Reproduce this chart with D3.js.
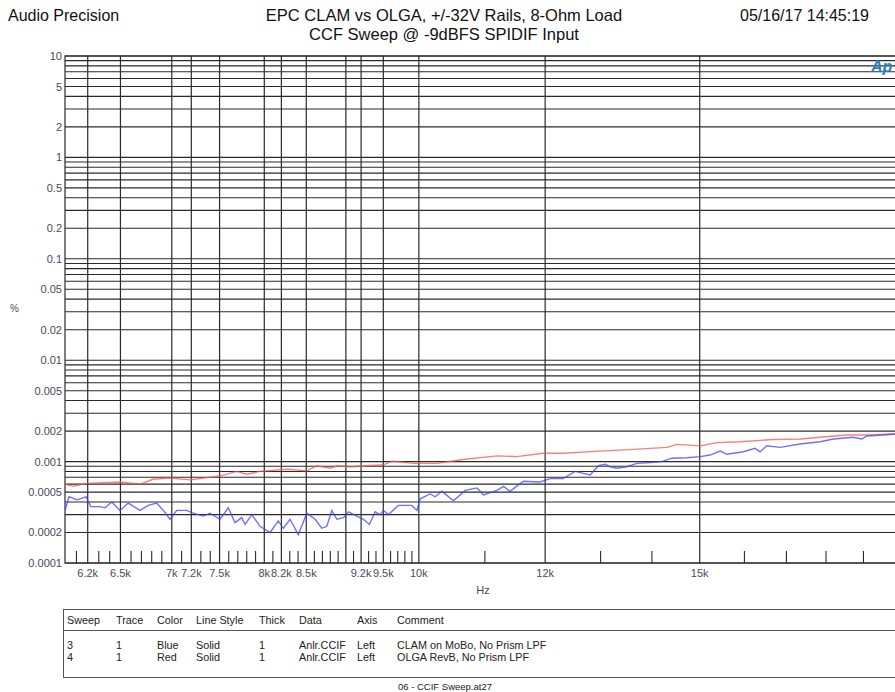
<!DOCTYPE html>
<meta charset="utf-8" />
<style>
  body { margin: 0; background: #fff; }
  text { font-family: "Liberation Sans", Arial, sans-serif; }
</style>
<svg width="895" height="692"></svg>
<script src="https://d3js.org/d3.v7.min.js"></script>
<script>
    // series: frequency (Hz) and value (%)
    var blueFreq = [6000, 6035, 6104, 6185, 6227, 6311, 6357, 6419, 6496, 6574, 6686, 6766, 6849, 6915, 6982,
        7050, 7152, 7221, 7326, 7397, 7505, 7595, 7669, 7744, 7781, 7857, 7951, 8067, 8164, 8223, 8303, 8403,
        8506, 8609, 8693, 8756, 8819, 8884, 8969, 9034, 9144, 9231, 9311, 9388, 9456, 9502, 9571, 9710, 9899,
        9971, 10019, 10165, 10239, 10338, 10513, 10692, 10875, 10979, 11193, 11301, 11406, 11628, 11912, 12086,
        12317, 12530, 12805, 12959, 13085, 13180, 13309, 13502, 13698, 13963, 14201, 14408, 14723, 15008, 15226,
        15448, 15598, 15976, 16247, 16366, 16525, 16845, 17338, 17846, 18193, 18726, 18955, 19092, 19555, 19888, 20000];
    var blueVal = [0.00033, 0.00045, 0.00042, 0.00045, 0.00036, 0.00036, 0.00035, 0.00040, 0.00033, 0.00039, 0.00033,
        0.00037, 0.00039, 0.00033, 0.00027, 0.00033, 0.00033, 0.00031, 0.00029, 0.00031, 0.00027, 0.00035, 0.00025,
        0.00028, 0.00024, 0.00030, 0.00023, 0.00020, 0.00026, 0.00022, 0.00027, 0.00019, 0.00031, 0.00027, 0.00022,
        0.00023, 0.00033, 0.00027, 0.00028, 0.00032, 0.00029, 0.00027, 0.00024, 0.00032, 0.00030, 0.00033, 0.00030,
        0.00037, 0.00037, 0.00033, 0.00043, 0.00048, 0.00045, 0.00051, 0.00041, 0.00052, 0.00055, 0.00047, 0.00052,
        0.00057, 0.00051, 0.00064, 0.00063, 0.00068, 0.00068, 0.00080, 0.00074, 0.00091, 0.00094, 0.00089, 0.00086,
        0.00089, 0.00096, 0.00098, 0.00100, 0.00108, 0.00109, 0.00112, 0.00116, 0.00127, 0.00118, 0.00125, 0.00135,
        0.00125, 0.00143, 0.00138, 0.00149, 0.00157, 0.00167, 0.00174, 0.00167, 0.00179, 0.00183, 0.00187, 0.00188];

    var redFreq = [6000, 6070, 6190, 6500, 6690, 6810, 6980, 7190, 7500, 7690, 7800, 7950, 8270, 8510, 8630, 8800,
        8890, 9056, 9500, 9620, 9920, 10270, 10660, 11200, 11520, 11960, 12320, 12990, 13630, 14310, 14520, 15010,
        15380, 15900, 16680, 17340, 17850, 18560, 19100, 19830, 20000];
    var redVal = [0.00060, 0.00057, 0.00061, 0.00063, 0.00060, 0.00067, 0.00069, 0.00066, 0.00072, 0.00080, 0.00075,
        0.00080, 0.00084, 0.00081, 0.00091, 0.00086, 0.00091, 0.00089, 0.00093, 0.00101, 0.00096, 0.00096, 0.00105,
        0.00114, 0.00112, 0.00121, 0.00121, 0.00127, 0.00132, 0.00138, 0.00148, 0.00143, 0.00154, 0.00157, 0.00165,
        0.00167, 0.00174, 0.00183, 0.00183, 0.00187, 0.00188];

    var gridFreqs = [6200, 6500, 7000, 7200, 7500, 8000, 8200, 8500, 9000, 9200, 9500, 10000, 12000, 15000];
    var labelFreqs = [6200, 6500, 7000, 7200, 7500, 8000, 8200, 8500, 9200, 9500, 10000, 12000, 15000];
    var minorFreqs = [6100, 6300, 6400, 6600, 6700, 6800, 6900, 7100, 7300, 7400, 7600, 7700, 7800, 7900, 8100,
        8300, 8400, 8600, 8700, 8800, 8900, 9100, 9300, 9400, 9600, 9700, 9800, 9900, 11000, 13000, 14000,
        16000, 17000, 18000, 19000];
    var yLabels = [10, 5, 2, 1, 0.5, 0.2, 0.1, 0.05, 0.02, 0.01, 0.005, 0.002, 0.001, 0.0005, 0.0002, 0.0001];

    var tableHead = ["Sweep", "Trace", "Color", "Line Style", "Thick", "Data", "Axis", "Comment"];
    var tableRows = [
        ["3", "1", "Blue", "Solid", "1", "Anlr.CCIF", "Left", "CLAM on MoBo, No Prism LPF"],
        ["4", "1", "Red", "Solid", "1", "Anlr.CCIF", "Left", "OLGA RevB, No Prism LPF"]
    ];
    var colX = [67, 116, 157, 196, 259, 299, 357, 397];

    var svg = d3.select("svg");
    var plotL = 65, plotR = 899, plotT = 56, plotB = 563;

    var x = d3.scaleLog().domain([6000, 20000]).range([plotL, plotR]);
    var y = d3.scaleLog().domain([0.0001, 10]).range([plotB, plotT]);

    var gridCol = "#2a2a2a";
    var labCol = "#4a4a58";

    // header texts
    svg.append("text").attr("x", 8).attr("y", 21).attr("font-size", 16).attr("fill", "#111").text("Audio Precision");
    svg.append("text").attr("x", 444).attr("y", 21).attr("font-size", 16.5).attr("text-anchor", "middle")
        .attr("fill", "#111").text("EPC CLAM vs OLGA, +/-32V Rails, 8-Ohm Load");
    svg.append("text").attr("x", 444).attr("y", 40).attr("font-size", 16.5).attr("text-anchor", "middle")
        .attr("fill", "#111").text("CCF Sweep @ -9dBFS SPIDIF Input");
    svg.append("text").attr("x", 740).attr("y", 21).attr("font-size", 16).attr("fill", "#111").text("05/16/17 14:45:19");

    // horizontal grid: 1..9 per decade
    var hLines = [];
    for (var e = -4; e <= 0; e++) {
        for (var k = 1; k <= 9; k++) hLines.push(k * Math.pow(10, e));
    }
    hLines.push(10);

    var g = svg.append("g");
    g.selectAll("line.h").data(hLines).enter().append("line")
        .attr("x1", plotL).attr("x2", plotR)
        .attr("y1", function(d) { return y(d); }).attr("y2", function(d) { return y(d); })
        .attr("stroke", gridCol).attr("stroke-width", 1.1);

    g.selectAll("line.v").data(gridFreqs).enter().append("line")
        .attr("x1", function(d) { return x(d); }).attr("x2", function(d) { return x(d); })
        .attr("y1", plotT).attr("y2", plotB)
        .attr("stroke", gridCol).attr("stroke-width", 1.2);

    g.selectAll("line.m").data(minorFreqs).enter().append("line")
        .attr("x1", function(d) { return x(d); }).attr("x2", function(d) { return x(d); })
        .attr("y1", plotB - 12).attr("y2", plotB)
        .attr("stroke", gridCol).attr("stroke-width", 1.1);

    // frame
    g.append("rect").attr("x", plotL).attr("y", plotT).attr("width", plotR - plotL).attr("height", plotB - plotT)
        .attr("fill", "none").attr("stroke", gridCol).attr("stroke-width", 1.2);

    // tick labels
    svg.append("g").selectAll("text").data(yLabels).enter().append("text")
        .attr("x", 62).attr("y", function(d) { return y(d) + 4; })
        .attr("text-anchor", "end").attr("font-size", 11).attr("fill", labCol)
        .text(function(d) { return String(d); });

    svg.append("g").selectAll("text").data(labelFreqs).enter().append("text")
        .attr("x", function(d) { return x(d); }).attr("y", plotB + 14)
        .attr("text-anchor", "middle").attr("font-size", 11).attr("fill", labCol)
        .text(function(d) { return (d / 1000) + "k"; });

    svg.append("text").attr("x", 10).attr("y", 312).attr("font-size", 10).attr("fill", labCol).text("%");
    svg.append("text").attr("x", 483).attr("y", 594).attr("font-size", 11).attr("text-anchor", "middle")
        .attr("fill", labCol).text("Hz");

    // Ap logo
    svg.append("text").attr("x", 871).attr("y", 72).attr("font-size", 16).attr("font-style", "italic")
        .attr("font-weight", "bold").attr("fill", "#2a7fc0").text("Ap");

    // traces
    svg.append("clipPath").attr("id", "clip").append("rect")
        .attr("x", plotL).attr("y", plotT).attr("width", plotR - plotL).attr("height", plotB - plotT);

    var line = d3.line()
        .x(function(d) { return x(d[0]); })
        .y(function(d) { return y(d[1]); });

    svg.append("path").attr("clip-path", "url(#clip)")
        .datum(d3.zip(redFreq, redVal))
        .attr("d", line).attr("fill", "none").attr("stroke", "#ff5050").attr("stroke-opacity", 0.75)
        .attr("stroke-width", 1.4);

    svg.append("path").attr("clip-path", "url(#clip)")
        .datum(d3.zip(blueFreq, blueVal))
        .attr("d", line).attr("fill", "none").attr("stroke", "#4040ff").attr("stroke-opacity", 0.75)
        .attr("stroke-width", 1.4);

    // legend table
    var t = svg.append("g");
    t.append("rect").attr("x", 63.5).attr("y", 609.5).attr("width", 900).attr("height", 68)
        .attr("fill", "none").attr("stroke", "#555").attr("stroke-width", 1);
    t.append("line").attr("x1", 63.5).attr("x2", 895).attr("y1", 630.5).attr("y2", 630.5)
        .attr("stroke", "#555").attr("stroke-width", 1);

    t.selectAll("text.h").data(tableHead).enter().append("text")
        .attr("x", function(d, i) { return colX[i]; }).attr("y", 624)
        .attr("font-size", 10.8).attr("fill", "#222").text(function(d) { return d; });

    tableRows.forEach(function(row, r) {
        t.selectAll("text.r" + r).data(row).enter().append("text")
            .attr("x", function(d, i) { return colX[i]; }).attr("y", 649 + r * 12)
            .attr("font-size", 10.8).attr("fill", "#222").text(function(d) { return d; });
    });

    svg.append("text").attr("x", 398).attr("y", 690).attr("font-size", 9.5).attr("fill", "#222")
        .text("06 - CCIF Sweep.at27");
</script>
